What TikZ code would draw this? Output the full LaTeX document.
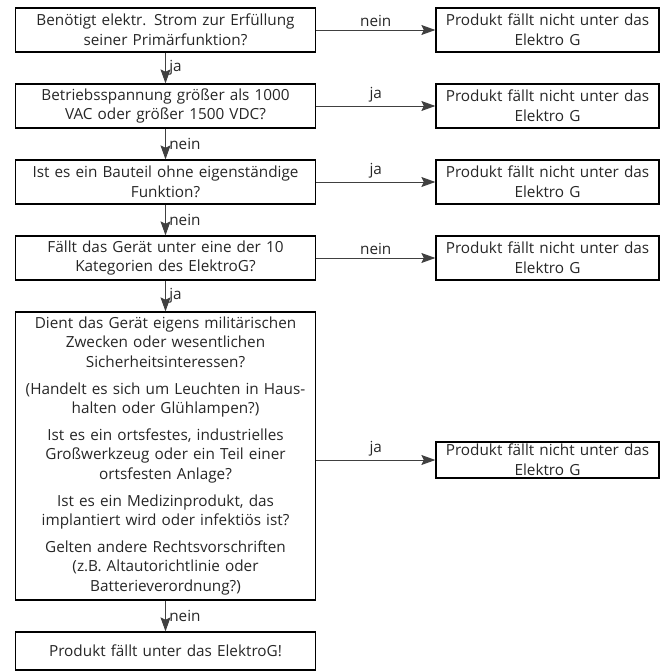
\documentclass[tikz,border=0pt]{standalone}
\usepackage{fontspec}
\setmainfont{Open Sans}
\usetikzlibrary{positioning}
\usetikzlibrary{arrows.meta}

\begin{document}
\begin{tikzpicture}[x=1pt, y=-1pt,
    font=\fontsize{15.3}{19.6}\selectfont, text=black!85,
    frage/.style={draw, rectangle, line width=1.3pt, text width=292pt, inner xsep=4pt, inner ysep=2pt, align=center, minimum height=44pt},
    ergebnis/.style={draw, rectangle, line width=1.3pt, text width=217pt, inner xsep=3pt, inner ysep=2pt, align=center, minimum height=44pt},
    pfeil/.style={-{Stealth[length=14pt,width=10pt,inset=2.5pt]}, draw=black!75, line width=0.9pt}]
    \useasboundingbox (0,0) rectangle (661,672);
    % linke Spalte: Fragen
    \node (f1) at (165.5,30) [frage] {Benötigt elektr. Strom zur Erfüllung\\seiner Primärfunktion?};
    \node (f2) at (165.5,106) [frage] {Betriebsspannung größer als 1000\\VAC oder größer 1500 VDC?};
    \node (f3) at (165.5,182) [frage] {Ist es ein Bauteil ohne eigenständige\\Funktion?};
    \node (f4) at (165.5,258) [frage] {Fällt das Gerät unter eine der 10\\Kategorien des ElektroG?};
    \node (f5) at (165.5,456) [frage, minimum height=288pt] {Dient das Gerät eigens militärischen\\Zwecken oder wesentlichen\\Sicherheitsinteressen?\\[7pt]
        (Handelt es sich um Leuchten in Haus-\\halten oder Glühlampen?)\\[7pt]
        Ist es ein ortsfestes, industrielles\\Großwerkzeug oder ein Teil einer\\ortsfesten Anlage?\\[7pt]
        Ist es ein Medizinprodukt, das\\implantiert wird oder infektiös ist?\\[7pt]
        Gelten andere Rechtsvorschriften\\(z.B. Altautorichtlinie oder\\Batterieverordnung?)};
    \node (f6) at (165.5,651) [frage, minimum height=38pt] {Produkt fällt unter das ElektroG!};
    % rechte Spalte: Ergebnisse
    \node (e1) at (547.5,30) [ergebnis] {Produkt fällt nicht unter das\\Elektro G};
    \node (e2) at (547.5,106) [ergebnis] {Produkt fällt nicht unter das\\Elektro G};
    \node (e3) at (547.5,182) [ergebnis] {Produkt fällt nicht unter das\\Elektro G};
    \node (e4) at (547.5,258) [ergebnis] {Produkt fällt nicht unter das\\Elektro G};
    \node (e5) at (547.5,460) [ergebnis, minimum height=36pt] {Produkt fällt nicht unter das\\Elektro G};
    % senkrechte Pfeile
    \draw[pfeil] (f1.south) -- node[right] {ja} (f2.north);
    \draw[pfeil] (f2.south) -- node[right] {nein} (f3.north);
    \draw[pfeil] (f3.south) -- node[right] {nein} (f4.north);
    \draw[pfeil] (f4.south) -- node[right] {ja} (f5.north);
    \draw[pfeil] (f5.south) -- node[right] {nein} (f6.north);
    % waagerechte Pfeile
    \draw[pfeil] (f1.east) -- node[above] {nein} (e1.west);
    \draw[pfeil] (f2.east) -- node[above] {ja} (e2.west);
    \draw[pfeil] (f3.east) -- node[above] {ja} (e3.west);
    \draw[pfeil] (f4.east) -- node[above] {nein} (e4.west);
    \draw[pfeil] (f5.east |- e5.west) -- node[above] {ja} (e5.west);
\end{tikzpicture}
\end{document}
